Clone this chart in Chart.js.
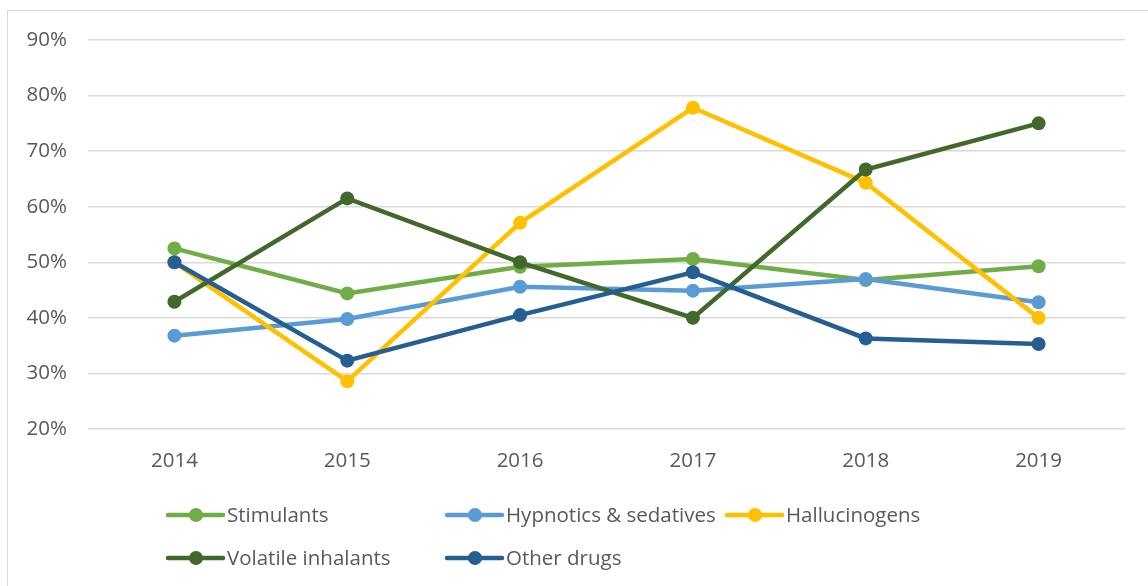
<!DOCTYPE html>
<html>
<head>
<meta charset="utf-8">
<script src="https://cdn.jsdelivr.net/npm/chart.js@4/dist/chart.umd.min.js"></script>
<style>
    html, body { margin: 0; padding: 0; background: #fff; overflow: hidden; }
    .myChart { position: relative; width: 1148px; height: 586px; }
    .frame { position: absolute; left: 7px; top: 10px; width: 1160px; height: 600px; border: 1px solid #d9d9d9; box-sizing: border-box; }
    canvas { position: absolute; left: 0; top: 0; }
</style>
</head>
<body>
<div class="myChart">
    <div class="frame"></div>
    <canvas id="chart" width="1148" height="586"></canvas>
</div>
<script>
const years = ['2014', '2015', '2016', '2017', '2018', '2019'];

const stimulants   = [52.5, 44.4, 49.2, 50.6, 46.8, 49.3];
const hypnotics    = [36.8, 39.8, 45.6, 44.9, 47.0, 42.8];
const hallucinogens = [50.0, 28.6, 57.1, 77.8, 64.3, 40.0];
const inhalants    = [42.9, 61.5, 50.0, 40.0, 66.7, 75.0];
const otherDrugs   = [50.0, 32.3, 40.5, 48.2, 36.3, 35.3];

const seriesNames = ['Stimulants', 'Hypnotics & sedatives', 'Hallucinogens', 'Volatile inhalants', 'Other drugs'];
const seriesColors = ['#70AD47', '#5B9BD5', '#FFC000', '#43682B', '#255E91'];

const textColor = '#595959';
const fontFamily = '"Open Sans", sans-serif';

function makeSet(i, values) {
    return {
        label: seriesNames[i],
        data: values,
        borderColor: seriesColors[i],
        backgroundColor: seriesColors[i],
        pointBackgroundColor: seriesColors[i],
        pointBorderWidth: 0,
        pointRadius: 7,
        borderWidth: 4.5,
        tension: 0,
        order: 5 - i,
        clip: false
    };
}

// excel style legend: line + dot, laid out in two rows
const legendSpots = [[168, 515], [447, 515], [727, 515], [168, 558], [447, 558]];

const legendPlugin = {
    id: 'excelLegend',
    afterDraw(chart) {
        const ctx = chart.ctx;
        ctx.save();
        chart.data.datasets.forEach((ds, i) => {
            const [x, y] = legendSpots[i];
            ctx.strokeStyle = ds.borderColor;
            ctx.lineWidth = 4.5;
            ctx.lineCap = 'round';
            ctx.beginPath();
            ctx.moveTo(x, y);
            ctx.lineTo(x + 55, y);
            ctx.stroke();
            ctx.fillStyle = ds.borderColor;
            ctx.beginPath();
            ctx.arc(x + 28, y, 7, 0, Math.PI * 2);
            ctx.fill();
            ctx.fillStyle = textColor;
            ctx.font = '20.5px ' + fontFamily;
            ctx.textBaseline = 'middle';
            ctx.textAlign = 'left';
            ctx.fillText(ds.label, x + 59, y + 1);
        });
        ctx.restore();
    }
};

new Chart(document.getElementById('chart'), {
    type: 'line',
    data: {
        labels: years,
        datasets: [
            makeSet(0, stimulants),
            makeSet(1, hypnotics),
            makeSet(2, hallucinogens),
            makeSet(3, inhalants),
            makeSet(4, otherDrugs)
        ]
    },
    options: {
        responsive: false,
        animation: false,
        layout: { padding: { top: 40, right: 23, left: 0, bottom: 0 } },
        plugins: {
            legend: { display: false },
            tooltip: { enabled: false }
        },
        scales: {
            x: {
                offset: true,
                grid: { display: false, drawTicks: false },
                border: { display: false },
                ticks: {
                    color: textColor,
                    font: { family: fontFamily, size: 20.5 },
                    padding: 20
                },
                afterFit: (scale) => { scale.height = 157; }
            },
            y: {
                min: 20,
                max: 90,
                grid: { color: '#d9d9d9', lineWidth: 1.5, drawTicks: false },
                border: { display: false },
                ticks: {
                    stepSize: 10,
                    color: textColor,
                    font: { family: fontFamily, size: 20.5 },
                    padding: 21,
                    callback: (v) => v + '%'
                },
                afterFit: (scale) => { scale.width = 88; }
            }
        }
    },
    plugins: [legendPlugin]
});
</script>
</body>
</html>
